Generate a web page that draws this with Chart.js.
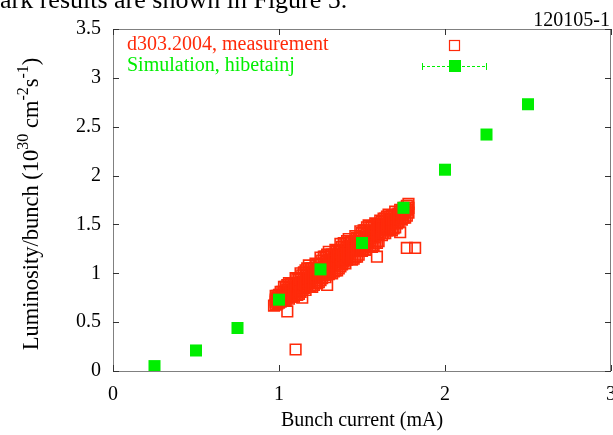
<!DOCTYPE html>
<html>
<head>
<meta charset="utf-8">
<script src="https://cdn.jsdelivr.net/npm/chart.js@4"></script>
<style>
  html, body { margin: 0; padding: 0; background: #fff; }
  canvas { display: block; }
</style>
</head>
<body>
<canvas id="lumiChart" width="613" height="435"></canvas>
<script>
// Simulação (hibetainj)
const simCurrent = [0.25, 0.5, 0.75, 1.0, 1.25, 1.5, 1.75, 2.0, 2.25, 2.5];
const simLumi = [0.05, 0.21, 0.44, 0.73, 1.04, 1.31, 1.67, 2.06, 2.42, 2.73];

// Medição d303.2004: cada corrente com as luminosidades lidas nela
const measCurrent = [
  0.98, 0.99, 1.00, 1.01, 1.02, 1.03, 1.04, 1.05, 1.06, 1.07, 1.08, 1.09,
  1.10, 1.11, 1.12, 1.13, 1.14, 1.15, 1.16, 1.17, 1.18, 1.19, 1.20, 1.21,
  1.22, 1.23, 1.24, 1.25, 1.26, 1.27, 1.28, 1.29, 1.30, 1.31, 1.32, 1.33,
  1.34, 1.35, 1.36, 1.37, 1.38, 1.39, 1.40, 1.41, 1.42, 1.43, 1.44, 1.45,
  1.46, 1.47, 1.48, 1.49, 1.50, 1.51, 1.52, 1.53, 1.54, 1.55, 1.56, 1.57,
  1.58, 1.59, 1.60, 1.61, 1.62, 1.63, 1.64, 1.65, 1.66, 1.67, 1.68, 1.69,
  1.70, 1.71, 1.72, 1.73, 1.74, 1.75, 1.76, 1.77, 1.78
];
const measLumi = [
  [0.68, 0.73, 0.77, 0.71], [0.69, 0.73, 0.77, 0.75], [0.74, 0.78, 0.70, 0.72], [0.74, 0.78, 0.81, 0.71],
  [0.73, 0.77, 0.81, 0.75], [0.73, 0.81, 0.86, 0.77], [0.72, 0.80, 0.86, 0.76], [0.75, 0.83, 0.88, 0.79],
  [0.78, 0.85, 0.90, 0.74], [0.77, 0.83, 0.89, 0.80], [0.76, 0.83, 0.89, 0.79], [0.82, 0.90, 0.76, 0.86],
  [0.78, 0.88, 0.95, 0.83], [0.78, 0.86, 0.94, 0.82], [0.86, 0.94, 0.79, 0.90], [0.85, 0.94, 1.00, 0.81],
  [0.83, 0.91, 0.98, 0.87], [0.85, 0.95, 1.01, 0.90], [0.83, 0.95, 1.03, 0.89], [0.86, 0.98, 1.05, 0.92],
  [0.90, 1.01, 1.08, 0.95], [0.87, 0.97, 1.05, 0.92], [0.86, 0.96, 1.05, 1.00], [0.96, 1.05, 0.88, 1.00],
  [0.90, 1.02, 1.10, 0.96], [0.90, 0.99, 1.09, 1.04], [0.99, 1.09, 0.91, 1.04], [0.98, 1.09, 1.16, 0.93],
  [0.95, 1.05, 1.13, 1.00], [0.98, 1.10, 1.17, 1.04], [0.96, 1.08, 1.17, 1.02], [1.00, 1.12, 1.19, 1.06],
  [1.04, 1.14, 1.22, 0.99], [1.01, 1.11, 1.19, 1.06], [1.00, 1.09, 1.19, 1.14], [1.09, 1.19, 1.02, 1.14],
  [1.03, 1.15, 1.24, 1.09], [1.03, 1.13, 1.23, 1.18], [1.13, 1.22, 1.05, 1.17], [1.12, 1.22, 1.30, 1.07],
  [1.09, 1.19, 1.27, 1.14], [1.12, 1.24, 1.31, 1.18], [1.10, 1.22, 1.31, 1.16], [1.14, 1.26, 1.33, 1.20],
  [1.17, 1.28, 1.35, 1.22], [1.15, 1.25, 1.33, 1.20], [1.14, 1.23, 1.33, 1.28], [1.23, 1.33, 1.15, 1.28],
  [1.17, 1.29, 1.38, 1.23], [1.17, 1.27, 1.36, 1.32], [1.27, 1.36, 1.19, 1.31], [1.25, 1.36, 1.43, 1.30],
  [1.23, 1.33, 1.41, 1.28], [1.25, 1.37, 1.44, 1.31], [1.24, 1.36, 1.44, 1.30], [1.28, 1.40, 1.47, 1.34],
  [1.31, 1.42, 1.49, 1.36], [1.29, 1.38, 1.47, 1.34], [1.27, 1.37, 1.47, 1.42], [1.37, 1.47, 1.29, 1.42],
  [1.31, 1.43, 1.51, 1.37], [1.31, 1.40, 1.50, 1.45], [1.40, 1.50, 1.33, 1.45], [1.41, 1.49, 1.54, 1.45],
  [1.39, 1.46, 1.53, 1.50], [1.41, 1.50, 1.56, 1.46], [1.41, 1.50, 1.56, 1.45], [1.44, 1.53, 1.58, 1.49],
  [1.46, 1.55, 1.60, 1.51], [1.45, 1.52, 1.58, 1.49], [1.44, 1.51, 1.59, 1.55], [1.52, 1.59, 1.46, 1.55],
  [1.47, 1.56, 1.63, 1.52], [1.51, 1.56, 1.60], [1.56, 1.61, 1.52], [1.56, 1.61, 1.65],
  [1.55, 1.60, 1.64], [1.57, 1.63, 1.67], [1.57, 1.63, 1.67], [1.59, 1.65, 1.69],
  [1.62, 1.67, 1.71]
];

// Pontos isolados da medição
const strayCurrent = [0.97, 1.05, 1.10, 1.14, 1.29, 1.59, 1.73, 1.77, 1.82];
const strayLumi = [0.67, 0.61, 0.22, 0.75, 0.88, 1.17, 1.42, 1.26, 1.26];

const xTicks = [0, 1, 2, 3];
const yTicks = [0, 0.5, 1, 1.5, 2, 2.5, 3, 3.5];

const RED = '#ff2a0a';
const GREEN = '#00ee00';
const FONT = "'Liberation Serif', 'Times New Roman', serif";

// Montar os pontos da medição
const measPoints = [];
measCurrent.forEach((x, i) => {
    measLumi[i].forEach(y => measPoints.push({ x: x, y: y }));
});
strayCurrent.forEach((x, i) => measPoints.push({ x: x, y: strayLumi[i] }));

const simPoints = simCurrent.map((x, i) => ({ x: x, y: simLumi[i] }));

// Moldura e marcas para dentro, estilo gnuplot
const framePlugin = {
    id: 'frame',
    beforeDatasetsDraw(chart) {
        const { ctx, chartArea: a, scales } = chart;
        ctx.save();
        ctx.strokeStyle = '#808080';
        ctx.lineWidth = 1;
        ctx.strokeRect(a.left + 0.5, a.top + 0.5, a.right - a.left - 1, a.bottom - a.top);
        ctx.strokeStyle = '#333';
        ctx.beginPath();
        xTicks.forEach(v => {
            const px = Math.round(scales.x.getPixelForValue(v)) + 0.5;
            ctx.moveTo(px, a.bottom); ctx.lineTo(px, a.bottom - 6);
            ctx.moveTo(px, a.top); ctx.lineTo(px, a.top + 6);
        });
        yTicks.forEach(v => {
            const py = Math.round(scales.y.getPixelForValue(v)) + 0.5;
            ctx.moveTo(a.left, py); ctx.lineTo(a.left + 6, py);
            ctx.moveTo(a.right, py); ctx.lineTo(a.right - 6, py);
        });
        ctx.stroke();
        ctx.restore();
    }
};

// Textos: títulos, legenda e rótulos soltos
const textPlugin = {
    id: 'texts',
    afterDraw(chart) {
        const { ctx, chartArea: a } = chart;
        ctx.save();
        ctx.fillStyle = '#000';

        // texto cortado do documento
        ctx.font = '26px ' + FONT;
        ctx.textAlign = 'left';
        ctx.textBaseline = 'alphabetic';
        ctx.fillText('ark results are shown in Figure 5.', 0, 8);

        ctx.font = '20px ' + FONT;
        ctx.textAlign = 'right';
        ctx.fillText('120105-1', 610, 26);

        // título do eixo x
        ctx.textAlign = 'center';
        ctx.textBaseline = 'middle';
        ctx.fillText('Bunch current (mA)', (a.left + a.right) / 2, 421);

        // título do eixo y com expoentes
        const parts = [
            ['Luminosity/bunch (10', false], ['30', true], [' cm', false],
            ['-2', true], ['s', false], ['-1', true], [')', false]
        ];
        const big = '22.5px ', small = '16px ';
        let total = 0;
        parts.forEach(p => {
            ctx.font = (p[1] ? small : big) + FONT;
            total += ctx.measureText(p[0]).width;
        });
        ctx.translate(38, 204);
        ctx.rotate(-Math.PI / 2);
        ctx.textAlign = 'left';
        ctx.textBaseline = 'alphabetic';
        let cx = -total / 2;
        parts.forEach(p => {
            ctx.font = (p[1] ? small : big) + FONT;
            ctx.fillText(p[0], cx, p[1] ? -10 : 0);
            cx += ctx.measureText(p[0]).width;
        });
        ctx.setTransform(1, 0, 0, 1, 0, 0);

        // legenda
        ctx.font = '20px ' + FONT;
        ctx.textAlign = 'left';
        ctx.textBaseline = 'middle';
        ctx.fillStyle = RED;
        ctx.fillText('d303.2004, measurement', 127, 45);
        ctx.fillStyle = GREEN;
        ctx.fillText('Simulation, hibetainj', 127, 66);

        ctx.strokeStyle = RED;
        ctx.lineWidth = 1.2;
        ctx.strokeRect(449.5, 40.5, 10, 10);

        ctx.strokeStyle = GREEN;
        ctx.lineWidth = 1;
        ctx.setLineDash([3, 2]);
        ctx.beginPath();
        ctx.moveTo(422, 66.5); ctx.lineTo(487, 66.5);
        ctx.stroke();
        ctx.setLineDash([]);
        ctx.beginPath();
        ctx.moveTo(422.5, 63); ctx.lineTo(422.5, 70);
        ctx.moveTo(486.5, 63); ctx.lineTo(486.5, 70);
        ctx.stroke();
        ctx.fillStyle = GREEN;
        ctx.fillRect(449, 60, 12, 12);
        ctx.restore();
    }
};

Chart.defaults.font.family = FONT;
Chart.defaults.color = '#000';

new Chart(document.getElementById('lumiChart').getContext('2d'), {
    type: 'scatter',
    data: {
        datasets: [
            {
                label: 'Simulation, hibetainj',
                data: simPoints,
                pointStyle: 'rect',
                pointRadius: 8.5,
                backgroundColor: GREEN,
                borderWidth: 0,
                order: 0
            },
            {
                label: 'd303.2004, measurement',
                data: measPoints,
                pointStyle: 'rect',
                pointRadius: 7.5,
                backgroundColor: 'rgba(0,0,0,0)',
                borderColor: RED,
                borderWidth: 1.6,
                order: 1
            }
        ]
    },
    options: {
        responsive: false,
        animation: false,
        events: [],
        layout: { autoPadding: false, padding: { top: 29, right: 2, left: 0, bottom: 0 } },
        plugins: {
            legend: { display: false },
            tooltip: { enabled: false }
        },
        scales: {
            x: {
                type: 'linear',
                min: 0,
                max: 3,
                ticks: { stepSize: 1, padding: 12, font: { size: 20 }, color: '#000' },
                grid: { display: false, drawTicks: false },
                border: { display: false },
                afterFit(scale) {
                    scale.height = 64;
                    scale.paddingLeft = 0;
                    scale.paddingRight = 0;
                }
            },
            y: {
                min: 0,
                max: 3.5,
                ticks: {
                    stepSize: 0.5,
                    padding: 12,
                    font: { size: 20 },
                    color: '#000',
                    callback: v => String(v)
                },
                grid: { display: false, drawTicks: false },
                border: { display: false },
                afterFit(scale) {
                    scale.width = 113;
                    scale.paddingTop = 0;
                    scale.paddingBottom = 0;
                }
            }
        }
    },
    plugins: [framePlugin, textPlugin]
});
</script>
</body>
</html>
